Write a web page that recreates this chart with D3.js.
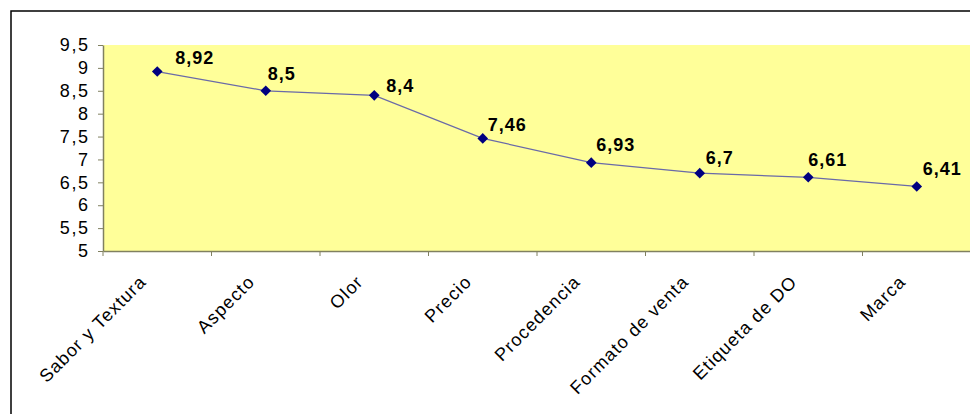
<!DOCTYPE html>
<html><head><meta charset="utf-8">
<script src="https://cdn.jsdelivr.net/npm/d3@7"></script>
<style>body{margin:0;background:#fff;}svg{display:block;}</style>
</head><body>
<script>
const categories = ["Sabor y Textura","Aspecto","Olor","Precio","Procedencia","Formato de venta","Etiqueta de DO","Marca"];
const values = [8.92,8.5,8.4,7.46,6.93,6.7,6.61,6.41];
const valueLabels = ["8,92","8,5","8,4","7,46","6,93","6,7","6,61","6,41"];
const yTicks = [5,5.5,6,6.5,7,7.5,8,8.5,9,9.5];
// data label offsets (layout only)
const labelDx = [18,2,12,5,5,6,0,6];
const labelDy = [-8,-11,-3,-7,-12,-9,-11,-11];

(function(){
const W=970,H=414;
const svg=d3.select("body").append("svg").attr("width",W).attr("height",H);
const mL=103,mR=971,mT=45,mB=251;
const FONT="Liberation Sans, Arial, sans-serif";

svg.append("rect").attr("x",11).attr("y",11).attr("width",W+10).attr("height",H+10)
  .attr("fill","#fff").attr("stroke","#000").attr("stroke-width",1.5);

const x=d3.scaleBand().domain(categories).range([mL,mR]);
const y=d3.scaleLinear().domain([5,9.5]).range([mB,mT]);

svg.append("rect").attr("x",mL).attr("y",mT).attr("width",mR-mL).attr("height",mB-mT).attr("fill","#FFFF99");

const fmt=d=>String(d).replace(".",",");
const ya=svg.append("g").attr("transform",`translate(${mL},0)`)
  .call(d3.axisLeft(y).tickValues(yTicks).tickFormat(fmt).tickSize(5).tickSizeOuter(0));
ya.select(".domain").attr("stroke","#808060").attr("stroke-width",1.5);
ya.selectAll(".tick line").attr("stroke","#808060");
ya.selectAll("text").attr("font-family",FONT).attr("font-size",18).attr("letter-spacing",1.6)
  .attr("fill","#000").attr("x",-13.4);

const xa=svg.append("g").attr("transform",`translate(0,${mB})`)
  .call(d3.axisBottom(x).tickSize(5).tickSizeOuter(0).tickFormat(""));
xa.select(".domain").attr("stroke","#808060").attr("stroke-width",1.5);
xa.selectAll(".tick line").attr("stroke","#808060").attr("transform",`translate(${-x.bandwidth()/2},0)`);

svg.append("g").selectAll("text").data(categories).join("text")
  .attr("transform",d=>`translate(${x(d)+x.bandwidth()/2-10},${mB+32}) rotate(-45)`)
  .attr("text-anchor","end")
  .attr("font-family",FONT).attr("font-size",18).attr("letter-spacing",1.1).attr("fill","#000")
  .text(d=>d);

const pts=categories.map((c,i)=>[x(c)+x.bandwidth()/2,y(values[i])]);
svg.append("path").attr("d",d3.line()(pts))
  .attr("fill","none").attr("stroke","#6a6aa8").attr("stroke-width",1.2);

svg.append("g").selectAll("path").data(pts).join("path")
  .attr("d",d3.symbol().type(d3.symbolDiamond2).size(72))
  .attr("transform",d=>`translate(${d[0]},${d[1]})`)
  .attr("fill","#000080");

svg.append("g").selectAll("text").data(pts).join("text")
  .attr("x",(d,i)=>d[0]+labelDx[i]).attr("y",(d,i)=>d[1]+labelDy[i])
  .attr("font-family",FONT).attr("font-size",18).attr("font-weight","bold").attr("letter-spacing",1)
  .attr("fill","#000")
  .text((d,i)=>valueLabels[i]);
})();
</script>
</body></html>
